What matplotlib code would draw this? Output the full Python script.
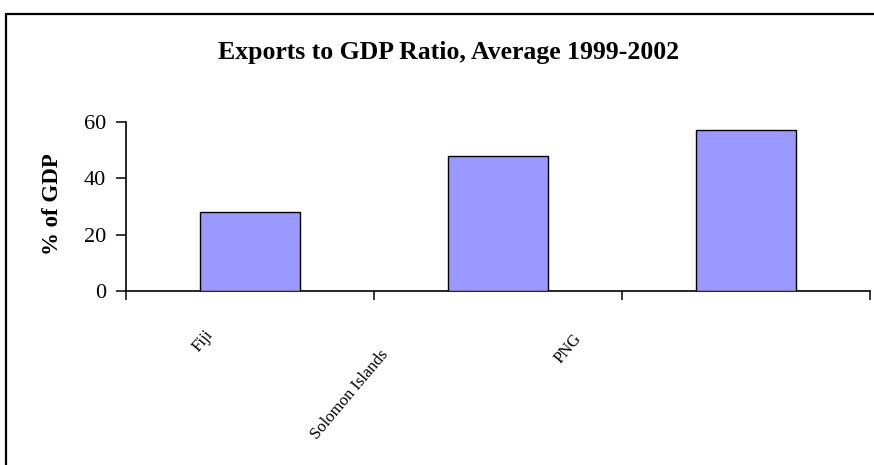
import matplotlib
matplotlib.use("Agg")
import matplotlib.pyplot as plt
from matplotlib.patches import Rectangle

categories = ["Fiji", "Solomon Islands", "PNG"]
values = [28.1, 47.9, 57.2]
yticks = [0, 20, 40, 60]
title = "Exports to GDP Ratio, Average 1999-2002"
ylabel = "% of GDP"

W, H = 874, 465
fig = plt.figure(figsize=(W / 100, H / 100), dpi=100)
plt.rcParams['font.family'] = ['Liberation Serif', 'DejaVu Serif']

# outer frame (cut off on right and bottom)
fig.patches.append(Rectangle((6 / W, -0.05), 1.1, (H - 14) / H + 0.05,
                             transform=fig.transFigure, fill=False,
                             edgecolor='black', linewidth=1.6))

ax = fig.add_axes([126 / W, (H - 291) / H, (870 - 126) / W, (291 - 121.7) / H])
x = [i + 0.5 for i in range(len(categories))]
ax.bar(x, values, width=100 / 248, color='#9999FF', edgecolor='black', linewidth=1.0, zorder=3)
ax.set_xlim(0, len(categories))
ax.set_ylim(0, 60)
ax.set_yticks(yticks)
ax.set_yticklabels([str(v) for v in yticks], fontsize=16)
ax.set_xticks(range(len(categories) + 1))
ax.set_xticklabels([])
ax.tick_params(axis='y', direction='out', length=7.2, width=1.1, pad=7)
ax.tick_params(axis='x', direction='out', length=6.5, width=1.1)
ax.spines['top'].set_visible(False)
ax.spines['right'].set_visible(False)
for s in ('left', 'bottom'):
    ax.spines[s].set_linewidth(1.2)

# category labels (placement mimics the original's diagonal labels)
label_centers_px = [(203, 341), (350, 395), (568, 349)]
for name, (px, py) in zip(categories, label_centers_px):
    fig.text(px / W, (H - py) / H, name, rotation=50, ha='center', va='center',
             rotation_mode='anchor', fontsize=12)

fig.text(449 / W, (H - 52) / H, title, ha='center', va='center',
         fontsize=18.5, fontweight='bold')
fig.text(52 / W, (H - 204) / H, ylabel, ha='center', va='center', rotation=90,
         fontsize=16.5, fontweight='bold')

fig.savefig("out.png", dpi=100, facecolor='white')
